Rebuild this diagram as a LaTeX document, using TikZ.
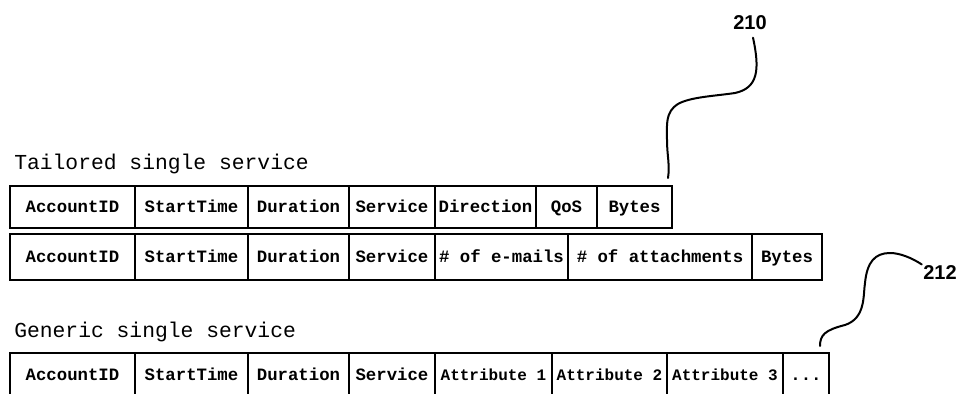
\documentclass[tikz,border=0pt]{standalone}
\usepackage{fontspec}
\setmainfont{Liberation Serif}
\newfontfamily\cellfont{Liberation Mono}
\newfontfamily\labfont{Liberation Sans}
\usetikzlibrary{calc}
\tikzset{
  cell/.style={draw=black, line width=1.3pt, rectangle, inner sep=0pt,
    text height=9.6pt, text depth=1.6pt,
    font=\cellfont\bfseries\fontsize{13}{15}\selectfont},
  narrowcell/.style={cell, font=\cellfont\bfseries\fontsize{12}{14}\selectfont},
  rowframe/.style={draw=black, line width=1.9pt},
  title/.style={anchor=base west, inner sep=0pt, font=\cellfont\fontsize{16}{18}\selectfont},
  reflabel/.style={inner sep=1pt, font=\labfont\bfseries\fontsize{15}{17}\selectfont},
  leader/.style={draw=black, line width=1.5pt, line cap=round}
}
\begin{document}
\begin{tikzpicture}[x=0.75pt, y=-0.75pt]
\useasboundingbox (0,0) rectangle (961,393);
% titles
\node[title] (t1) at (14,169) {Tailored single service};
\node[title] (t2) at (14,337) {Generic single service};
% row 1
\foreach \l/\r/\t/\n in {10/135/AccountID/a1, 135/248/StartTime/a2, 248/349/Duration/a3,
  349/435/Service/a4, 435/536/Direction/a5, 536/597/QoS/a6, 597/672/Bytes/a7}{
  \node[cell, minimum width={(\r-\l)*0.75pt}, minimum height={42*0.75pt}] (\n) at ({(\l+\r)/2},207) {\t};
}
\draw[rowframe] (10,186) rectangle (672,228);
% row 2
\foreach \l/\r/\t/\n in {10/135/AccountID/b1, 135/248/StartTime/b2, 248/349/Duration/b3,
  349/435/Service/b4, 435/568/\# of e-mails/b5, 568/752/\# of attachments/b6, 752/822/Bytes/b7}{
  \node[cell, minimum width={(\r-\l)*0.75pt}, minimum height={46*0.75pt}] (\n) at ({(\l+\r)/2},257) {\t};
}
\draw[rowframe] (10,234) rectangle (822,280);
% row 3
\foreach \l/\r/\t/\n in {10/135/AccountID/c1, 135/248/StartTime/c2, 248/349/Duration/c3,
  349/435/Service/c4}{
  \node[cell, minimum width={(\r-\l)*0.75pt}, minimum height={44*0.75pt}] (\n) at ({(\l+\r)/2},375) {\t};
}
\foreach \l/\r/\t/\n in {435/552/Attribute 1/c5, 552/667/Attribute 2/c6, 667/783/Attribute 3/c7}{
  \node[narrowcell, minimum width={(\r-\l)*0.75pt}, minimum height={44*0.75pt}] (\n) at ({(\l+\r)/2},375) {\t};
}
\node[cell, minimum width={(829-783)*0.75pt}, minimum height={44*0.75pt}] (c8) at ({(783+829)/2},375) {...};
\draw[rowframe] (10,353) rectangle (829,397);
% reference labels
\node[reflabel] (l210) at (750,23) {210};
\node[reflabel] (l212) at (940,273) {212};
\coordinate (e210) at (668,178);
\coordinate (e212) at (820,346);
\draw[leader] ($(l210.south)+(3,6)$) .. controls (760,70) and (758,88) .. (735,93)
  .. controls (715,96) and (690,97) .. (678,104)
  .. controls (665,112) and (667,125) .. (667,140)
  .. controls (667,155) and (670,165) .. (e210);
\draw[leader] (e212) .. controls (820,335) and (825,330) .. (845,325)
  .. controls (866,318) and (863,295) .. (865,283)
  .. controls (867,262) and (875,253) .. (890,253)
  .. controls (900,253) and (912,258) .. (l212.north west);
\end{tikzpicture}
\end{document}
